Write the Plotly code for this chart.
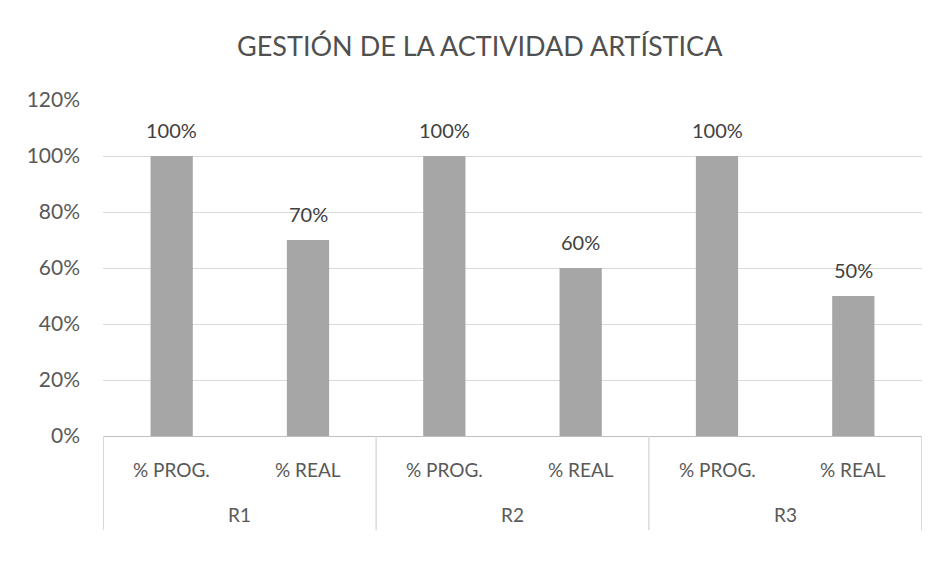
import plotly.graph_objects as go

# Data
groups = ["R1", "R1", "R2", "R2", "R3", "R3"]
kinds = ["% PROG.", "% REAL", "% PROG.", "% REAL", "% PROG.", "% REAL"]
values = [1.00, 0.70, 1.00, 0.60, 1.00, 0.50]
labels = ["100%", "70%", "100%", "60%", "100%", "50%"]

txt_color = "#595959"
font_name = "Lato"

fig = go.Figure()

fig.add_trace(go.Bar(
    x=[groups, kinds],
    y=values,
    marker=dict(color="#a6a6a6", line=dict(width=0)),
    hoverinfo="skip",
))

annotations = []
shapes = []

# data labels above bars
for i, (v, lab) in enumerate(zip(values, labels)):
    annotations.append(dict(
        x=i, y=v, xref="x", yref="y", text=lab, showarrow=False,
        yanchor="middle", yshift=26,
        font=dict(size=20, color="#404040", family=font_name),
    ))

# inner category labels
for i, k in enumerate(kinds):
    annotations.append(dict(
        x=i, y=0, xref="x", yref="paper", text=k, showarrow=False,
        yanchor="middle", yshift=-33,
        font=dict(size=19, color=txt_color, family=font_name),
    ))

# outer group labels + dividers
uniq = []
for g in groups:
    if g not in uniq:
        uniq.append(g)
for g in uniq:
    idx = [i for i, gg in enumerate(groups) if gg == g]
    annotations.append(dict(
        x=sum(idx) / len(idx), y=0, xref="x", yref="paper", text=g,
        showarrow=False, yanchor="middle", yshift=-78,
        font=dict(size=19, color=txt_color, family=font_name),
    ))
    for edge in (min(idx) - 0.5, max(idx) + 0.5):
        shapes.append(dict(
            type="line", xref="x", yref="paper", x0=edge, x1=edge,
            y0=0, y1=-0.28, line=dict(color="#d9d9d9", width=1),
        ))

fig.update_layout(
    title=dict(
        text="GESTIÓN DE LA ACTIVIDAD ARTÍSTICA",
        x=0.504, xanchor="center", y=0.932, yanchor="middle",
        font=dict(size=27, color="#505050", family=font_name),
    ),
    width=936, height=572,
    margin=dict(l=95, r=22, t=92, b=144),
    plot_bgcolor="white",
    paper_bgcolor="white",
    bargap=0.69,
    showlegend=False,
    font=dict(family=font_name, color=txt_color),
    annotations=annotations,
    shapes=shapes,
)

fig.update_xaxes(
    type="multicategory",
    showline=True, linecolor="#bfbfbf", linewidth=1,
    showdividers=False,
    showticklabels=False,
    showgrid=False,
)

fig.update_yaxes(
    range=[0, 1.2],
    dtick=0.2,
    tickformat=".0%",
    showgrid=True, gridcolor="#d9d9d9", gridwidth=1,
    zeroline=False,
    showline=False,
    ticks="",
    tickfont=dict(size=21, color=txt_color, family=font_name),
    ticklabelstandoff=22,
)

fig.write_html("out.html")
